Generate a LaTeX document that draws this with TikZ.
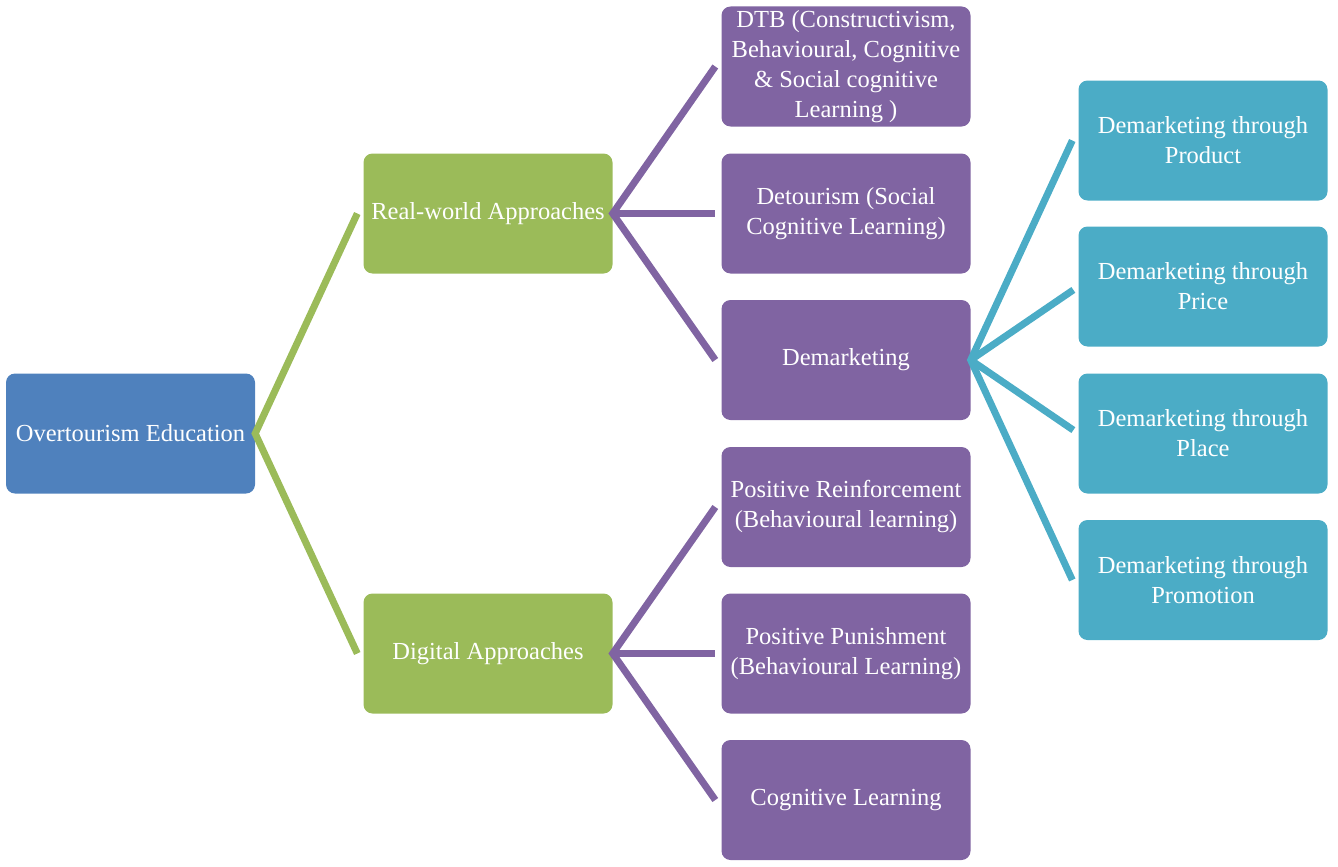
\documentclass[tikz,border=0pt]{standalone}
\usepackage{fontspec}
\setmainfont{Liberation Serif}
\definecolor{cblue}{HTML}{4F81BD}
\definecolor{cgreen}{HTML}{9BBB59}
\definecolor{cpurple}{HTML}{8064A2}
\definecolor{cteal}{HTML}{4BACC6}
\begin{document}
\begin{tikzpicture}[x=1pt,y=-1pt,
  box/.style={rounded corners=9pt, minimum width=249pt, minimum height=120pt, inner sep=0pt,
    text=white, align=center, font=\fontsize{24.5}{30}\selectfont},
  link/.style={line width=7pt}]
\useasboundingbox (0,0) rectangle (1338,867);
% level 0
\node[box, fill=cblue] (ot) at (130.5,433.5) {Overtourism Education};
% level 1
\node[box, fill=cgreen] (rw) at (488,213.5) {Real-world Approaches};
\node[box, fill=cgreen] (dg) at (488,653.5) {Digital Approaches};
% level 2
\node[box, fill=cpurple] (dtb) at (846,66.5) {DTB (Constructivism,\\Behavioural, Cognitive\\\& Social cognitive\\Learning )};
\node[box, fill=cpurple] (det) at (846,213.5) {Detourism (Social\\Cognitive Learning)};
\node[box, fill=cpurple] (dem) at (846,360) {Demarketing};
\node[box, fill=cpurple] (pr) at (846,507) {Positive Reinforcement\\(Behavioural learning)};
\node[box, fill=cpurple] (pp) at (846,653.5) {Positive Punishment\\(Behavioural Learning)};
\node[box, fill=cpurple] (cl) at (846,800) {Cognitive Learning};
% level 3
\node[box, fill=cteal] (d1) at (1203,140.5) {Demarketing through\\Product};
\node[box, fill=cteal] (d2) at (1203,286.5) {Demarketing through\\Price};
\node[box, fill=cteal] (d3) at (1203,433.5) {Demarketing through\\Place};
\node[box, fill=cteal] (d4) at (1203,580) {Demarketing through\\Promotion};
% connectors
\draw[link, cgreen] ([xshift=-6pt]rw.west) -- (ot.east) -- ([xshift=-6pt]dg.west);
\draw[link, cpurple] ([xshift=-6pt]dtb.west) -- (rw.east) -- ([xshift=-6pt]dem.west);
\draw[link, cpurple, shorten >=6pt] (rw.east) -- (det.west);
\draw[link, cpurple] ([xshift=-6pt]pr.west) -- (dg.east) -- ([xshift=-6pt]cl.west);
\draw[link, cpurple, shorten >=6pt] (dg.east) -- (pp.west);
\draw[link, cteal] ([xshift=-6pt]d1.west) -- (dem.east) -- ([xshift=-6pt]d4.west);
\draw[link, cteal, shorten >=6pt] (dem.east) -- (d2.west);
\draw[link, cteal, shorten >=6pt] (dem.east) -- (d3.west);
\end{tikzpicture}
\end{document}
